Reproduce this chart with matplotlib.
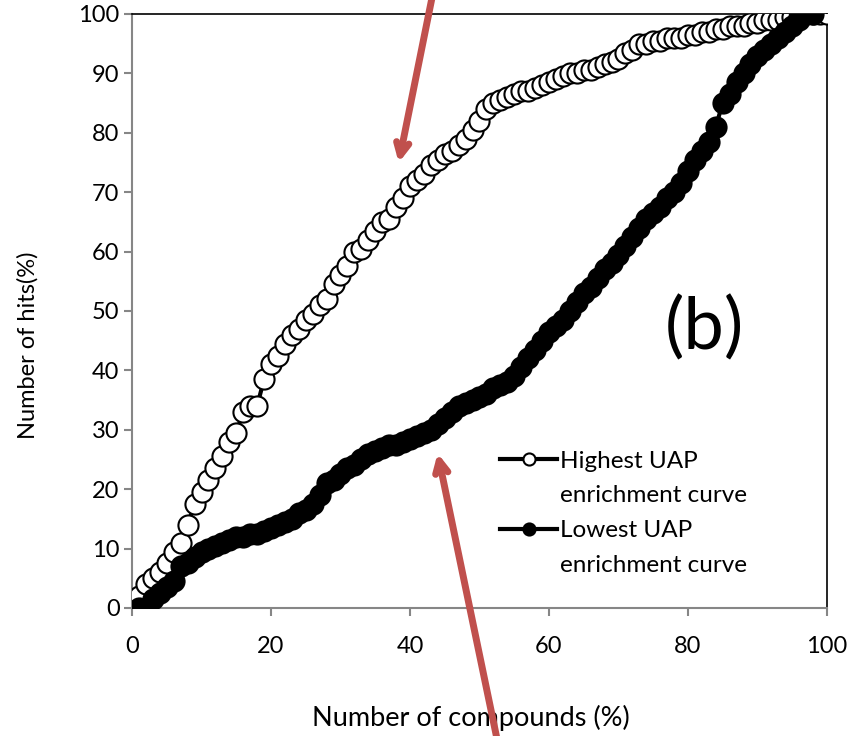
import numpy as np
import matplotlib
matplotlib.use("Agg")
import matplotlib.pyplot as plt
from matplotlib.lines import Line2D

plt.rcParams['font.family'] = ['Lato', 'DejaVu Sans']

# data (x = % of compounds, y = % of hits)
high_x = np.arange(1, 101)
high_y = [2, 4, 5, 6, 7.5, 9.5, 11, 14, 17.5, 19.5,
          21.5, 23.5, 25.5, 28, 29.5, 33, 34, 34, 38.5, 41,
          42.5, 44.5, 46, 47, 48.5, 49.5, 51, 52, 54.5, 56,
          57.5, 60, 60.5, 62, 63.5, 65, 65.5, 67.5, 69, 71,
          72, 73, 74.5, 75.5, 76.5, 77, 78, 79, 80.5, 82,
          84, 85, 85.5, 86, 86.5, 87, 87, 87.5, 88, 88.5,
          89, 89.5, 90, 90, 90.5, 90.5, 91, 91.5, 92, 92.5,
          93.5, 94, 95, 95, 95.5, 95.5, 96, 96, 96, 96.5,
          96.5, 97, 97, 97.5, 97.5, 98, 98, 98, 98.5, 98.5,
          99, 99, 99, 99.5, 99.5, 99.5, 100, 100, 100, 100]

low_x = np.arange(1, 99)
low_y = [0, 0, 1.5, 2.5, 3.5, 4.5, 7, 7.5, 8.5, 9.5,
         10, 10.5, 11, 11.5, 12, 12, 12.5, 12.5, 13, 13.5,
         14, 14.5, 15, 16, 16.5, 17.5, 19, 21, 21.5, 22.5,
         23.5, 24, 25, 26, 26.5, 27, 27.5, 27.5, 28, 28.5,
         29, 29.5, 30, 31, 32, 33, 34, 34.5, 35, 35.5,
         36, 37, 37.5, 38, 39, 40.5, 42, 43.5, 45, 46.5,
         47.5, 48.5, 50, 51.5, 53, 54, 55.5, 57, 58, 59.5,
         61, 62.5, 64, 65.5, 66.5, 67.5, 69, 70, 71.5, 73.5,
         75.5, 77, 78.5, 81, 85, 86.5, 88.5, 90, 91.5, 93,
         94, 95, 96, 97, 98, 99, 100, 100]

high_label = ['Highest UAP', 'enrichment curve']
low_label = ['Lowest UAP', 'enrichment curve']
arrow_color = '#C0504D'

fig = plt.figure(figsize=(8.49, 7.36), dpi=100)
ax = fig.add_axes([0.1555, 0.174, 0.8185, 0.807])

h1, = ax.plot(high_x, high_y, '-o', color='black', lw=3, ms=14.5,
              mfc='white', mec='black', mew=1.5, zorder=3)
h2, = ax.plot(low_x, low_y, '-o', color='black', lw=3, ms=14.5,
              mfc='black', mec='black', mew=1.5, zorder=4)

ax.set_xlim(0, 100)
ax.set_ylim(0, 100)
ax.set_xticks(range(0, 101, 20))
ax.set_yticks(range(0, 101, 10))

for side in ['left', 'bottom']:
    ax.spines[side].set_color('#868686')
    ax.spines[side].set_linewidth(1.5)
for side in ['top', 'right']:
    ax.spines[side].set_color('black')
    ax.spines[side].set_linewidth(1.2)
ax.tick_params(direction='out', length=6, width=1.5, color='#868686',
               labelsize=17)
ax.tick_params(axis='x', pad=14)
ax.tick_params(axis='y', pad=3)

ax.set_xlabel('Number of compounds (%)', fontsize=19.5, va='center')
ax.xaxis.set_label_coords(0.488, -0.185)
ax.set_ylabel('Number of hits(%)', fontsize=17, va='center')
ax.yaxis.set_label_coords(-0.15, 0.443)

ax.text(82.3, 47, '(b)', fontsize=52, ha='center', va='center')

# legend: each label's second line is a blank-handle entry, as in Excel
blank = Line2D([], [], linestyle='none')
leg = ax.legend([h1, blank, h2, blank],
                [high_label[0], high_label[1], low_label[0], low_label[1]],
                loc='upper left', bbox_to_anchor=(0.5295, 0.265),
                frameon=False, fontsize=17.5, handlelength=2.35,
                labelspacing=0.57, handletextpad=0.12, borderpad=0,
                borderaxespad=0, markerscale=0.6)

# red arrows pointing at the two curves
ax.annotate('', xy=(38.3, 74.5), xytext=(43.3, 103.5), annotation_clip=False,
            arrowprops=dict(arrowstyle='->,head_length=0.9,head_width=0.45',
                            color=arrow_color, lw=5))
ax.annotate('', xy=(43.9, 26.5), xytext=(52.6, -22.5), annotation_clip=False,
            arrowprops=dict(arrowstyle='->,head_length=0.9,head_width=0.45',
                            color=arrow_color, lw=5))

fig.savefig('out.png', dpi=100)
